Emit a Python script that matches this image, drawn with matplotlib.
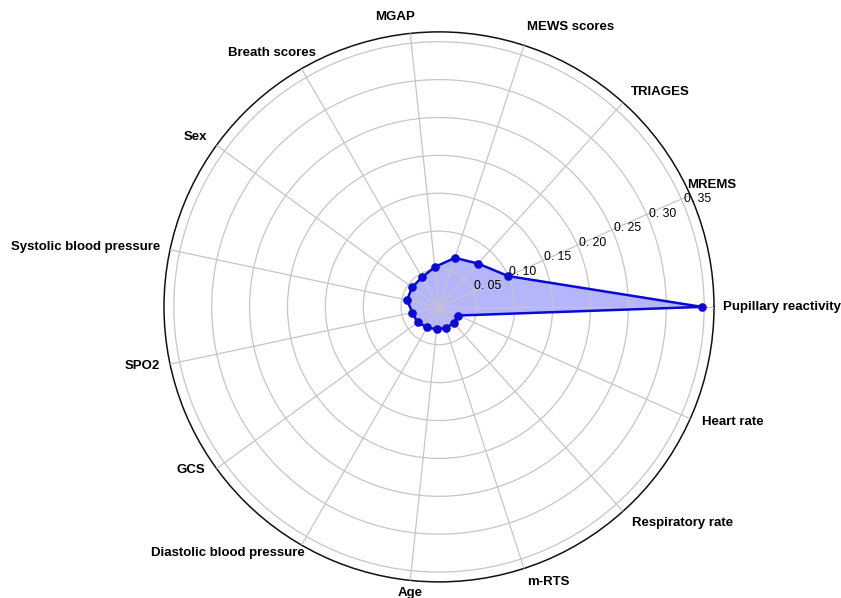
import numpy as np
import matplotlib
matplotlib.use("Agg")
import matplotlib.pyplot as plt

# Feature importance per predictor, counter-clockwise from 0 degrees
features = [
    "Pupillary reactivity", "MREMS", "TRIAGES", "MEWS scores", "MGAP",
    "Breath scores", "Sex", "Systolic blood pressure", "SPO2", "GCS",
    "Diastolic blood pressure", "Age", "m-RTS", "Respiratory rate", "Heart rate",
]
importance = [
    0.347, 0.100, 0.077, 0.068, 0.053,
    0.045, 0.044, 0.043, 0.036, 0.035,
    0.031, 0.030, 0.029, 0.029, 0.028,
]
r_ticks = [0.05, 0.10, 0.15, 0.20, 0.25, 0.30, 0.35]
r_tick_labels = ["0. 05", "0. 10", "0. 15", "0. 20", "0. 25", "0. 30", "0. 35"]

# Label placement: horizontal alignment and pixel offset from the rim
label_ha = ["left", "left", "left", "left", "right",
            "right", "right", "right", "right", "right",
            "right", "center", "left", "left", "left"]
label_offset = [(9, 0), (-3, 10), (8, 11), (3, 18), (5, 16),
                (14, 16), (-9, 8), (-10, 3), (-10, -2), (-11, -1),
                (3, -8), (0, -13), (3, -14), (9, -12), (12, -3)]

r_max = 0.363
line_color = "#0a0ad2"

fig = plt.figure(figsize=(8.41, 5.98), dpi=100)
ax = fig.add_axes([0.195, 0.0268, 0.654, 0.920], projection="polar")
ax.set_axisbelow(False)

n = len(features)
theta = np.deg2rad(np.arange(n) * 360.0 / n)
theta_closed = np.append(theta, theta[0])
vals_closed = np.append(importance, importance[0])

ax.fill(theta_closed, vals_closed, color=(0.71, 0.71, 0.99), zorder=2)
ax.plot(theta_closed, vals_closed, color=line_color, lw=1.8, zorder=3)
ax.plot(theta, importance, "o", color=line_color, ms=5.2, zorder=4)

ax.set_ylim(0, r_max)
ax.set_xticks(theta)
ax.set_xticklabels([])
ax.set_yticks(r_ticks)
ax.set_yticklabels(r_tick_labels, fontsize=8.7, family="Liberation Sans")
ax.set_rlabel_position(22.5)
for lab in ax.get_yticklabels():
    lab.set_horizontalalignment("left")
    lab.set_verticalalignment("bottom")

ax.grid(True, color="#c6c6c6", lw=0.9)
ax.spines["polar"].set_color("#111111")
ax.spines["polar"].set_linewidth(1.1)

for t, name, ha, off in zip(theta, features, label_ha, label_offset):
    ax.annotate(name, xy=(t, r_max), xytext=off, textcoords="offset pixels",
                ha=ha, va="center", fontsize=9.5, fontweight="bold",
                family="Liberation Sans", annotation_clip=False)

fig.savefig("out.png", dpi=100)
